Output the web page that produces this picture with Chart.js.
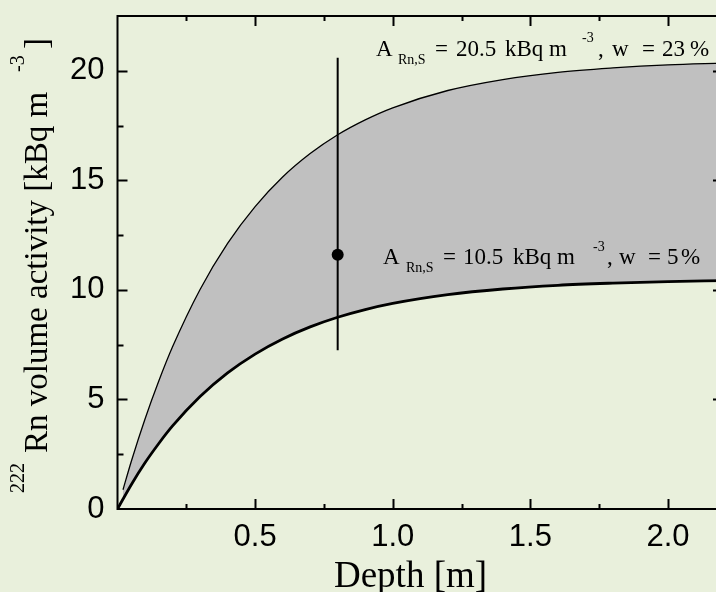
<!DOCTYPE html>
<html>
<head>
<meta charset="utf-8">
<title>Rn volume activity vs depth</title>
<script src="https://cdn.jsdelivr.net/npm/chart.js@4/dist/chart.umd.min.js"></script>
<style>
    html, body { margin: 0; padding: 0; background: #E9F0DC; overflow: hidden; }
    #wrap { position: relative; width: 724px; height: 592px; }
</style>
</head>
<body>
<div id="wrap"><canvas id="rnChart" width="724" height="592"></canvas></div>
<script>
// depth samples [m]
const depthLow = [0, 0.05, 0.1, 0.15, 0.2, 0.3, 0.4, 0.5, 0.6, 0.7, 0.8, 0.9, 1.0, 1.2, 1.4, 1.6, 1.8, 2.0, 2.2];
const activityLow = [0, 1.11, 2.11, 2.99, 3.79, 5.13, 6.21, 7.07, 7.76, 8.31, 8.75, 9.10, 9.38, 9.78, 10.04, 10.21, 10.31, 10.38, 10.42];

const depthHigh = [0.02, 0.05, 0.1, 0.15, 0.2, 0.3, 0.4, 0.5, 0.6, 0.7, 0.8, 0.9, 1.0, 1.2, 1.4, 1.6, 1.8, 2.0, 2.2];
const activityHigh = [0.88, 2.17, 4.11, 5.84, 7.40, 10.02, 12.12, 13.80, 15.15, 16.22, 17.08, 17.76, 18.31, 19.10, 19.60, 19.93, 20.13, 20.27, 20.35];

// measured point with its range
const measDepth = [0.8];
const measActivity = [11.6];
const measMin = [7.25];
const measMax = [20.6];

const xTicks = [0.5, 1.0, 1.5, 2.0];
const yTicks = [0, 5, 10, 15, 20];

const SERIF = '"Liberation Serif", "Times New Roman", serif';
const SANS = '"Liberation Sans", Arial, sans-serif';

function toXY(xs, ys) {
    return xs.map((x, i) => ({ x: x, y: ys[i] }));
}

// frame, inward ticks (major + minor) on all four sides
const framePlugin = {
    id: 'frame',
    afterDatasetsDraw(chart) {
        const { ctx, chartArea: a, scales: { x, y } } = chart;
        ctx.save();
        ctx.strokeStyle = '#000';
        ctx.lineWidth = 2;
        ctx.strokeRect(a.left, a.top, a.right - a.left, a.bottom - a.top);

        ctx.beginPath();
        for (let v = 0.25; v < x.max; v += 0.25) {
            const px = Math.round(x.getPixelForValue(v)) + 0.5;
            const len = Math.abs(v / 0.5 - Math.round(v / 0.5)) < 1e-6 ? 10 : 5;
            ctx.moveTo(px, a.bottom); ctx.lineTo(px, a.bottom - len);
            ctx.moveTo(px, a.top); ctx.lineTo(px, a.top + len);
        }
        for (let v = 2.5; v < y.max; v += 2.5) {
            const py = Math.round(y.getPixelForValue(v)) + 0.5;
            const len = v % 5 === 0 ? 10 : 6;
            ctx.moveTo(a.left, py); ctx.lineTo(a.left + len, py);
            ctx.moveTo(a.right, py); ctx.lineTo(a.right - len, py);
        }
        ctx.stroke();
        ctx.restore();
    }
};

// vertical range bar and dot for the measured value
const measPlugin = {
    id: 'meas',
    afterDatasetsDraw(chart) {
        const { ctx, scales: { x, y } } = chart;
        ctx.save();
        ctx.strokeStyle = '#000';
        ctx.fillStyle = '#000';
        ctx.lineWidth = 2;
        measDepth.forEach((d, i) => {
            const px = x.getPixelForValue(d);
            ctx.beginPath();
            ctx.moveTo(px, y.getPixelForValue(measMin[i]));
            ctx.lineTo(px, y.getPixelForValue(measMax[i]));
            ctx.stroke();
            ctx.beginPath();
            ctx.arc(px, y.getPixelForValue(measActivity[i]), 6, 0, Math.PI * 2);
            ctx.fill();
        });
        ctx.restore();
    }
};

// draw a run of text pieces: [text, size, x, y]
function drawPieces(ctx, pieces) {
    pieces.forEach(p => {
        ctx.font = p[1] + 'px ' + SERIF;
        ctx.fillText(p[0], p[2], p[3]);
    });
}

const labelPlugin = {
    id: 'labels',
    afterDraw(chart) {
        const ctx = chart.ctx;
        ctx.save();
        ctx.fillStyle = '#000';
        ctx.textBaseline = 'alphabetic';
        ctx.textAlign = 'left';

        // curve annotations
        drawPieces(ctx, [
            ['A', 23, 376, 56],
            ['Rn,S', 14, 398, 64],
            ['=', 23, 435, 56],
            ['20.5', 23, 456, 56],
            ['kBq', 23, 505, 56],
            ['m', 23, 549, 56],
            ['-3', 14, 582, 42],
            [',', 23, 598, 56],
            ['w', 23, 612, 56],
            ['=', 23, 642, 56],
            ['23', 23, 662, 56],
            ['%', 23, 690, 56]
        ]);
        drawPieces(ctx, [
            ['A', 23, 383, 264],
            ['Rn,S', 14, 406, 272],
            ['=', 23, 443, 264],
            ['10.5', 23, 463, 264],
            ['kBq', 23, 513, 264],
            ['m', 23, 557, 264],
            ['-3', 14, 593, 251],
            [',', 23, 607, 264],
            ['w', 23, 619, 264],
            ['=', 23, 648, 264],
            ['5', 23, 667, 264],
            ['%', 23, 681, 264]
        ]);

        // x axis title
        ctx.font = '37px ' + SERIF;
        ctx.textAlign = 'center';
        ctx.fillText('Depth [m]', 410.5, 587);

        // y axis title, rotated
        ctx.textAlign = 'left';
        ctx.translate(47, 493);
        ctx.rotate(-Math.PI / 2);
        drawPieces(ctx, [
            ['222', 20, 0, -23],
            ['Rn volume activity [kBq m', 33, 40, 0],
            ['-3', 20, 421, -23],
            [']', 33, 444, 0]
        ]);
        ctx.restore();
    }
};

new Chart(document.getElementById('rnChart'), {
    type: 'line',
    data: {
        datasets: [{
            label: 'A = 10.5 kBq m-3, w = 5 %',
            data: toXY(depthLow, activityLow),
            borderColor: '#000',
            borderWidth: 2.8,
            pointRadius: 0,
            cubicInterpolationMode: 'monotone',
            fill: false
        }, {
            label: 'A = 20.5 kBq m-3, w = 23 %',
            data: toXY(depthHigh, activityHigh),
            borderColor: '#000',
            borderWidth: 1.3,
            pointRadius: 0,
            cubicInterpolationMode: 'monotone',
            backgroundColor: '#C0C0C0',
            fill: '-1'
        }]
    },
    options: {
        responsive: false,
        animation: false,
        layout: { padding: { top: 16, right: 1, left: 0, bottom: 0 } },
        plugins: {
            legend: { display: false },
            tooltip: { enabled: false }
        },
        scales: {
            x: {
                type: 'linear',
                min: 0,
                max: 2.2,
                afterFit(scale) {
                    scale.height = 83;
                    scale.paddingLeft = 0;
                    scale.paddingRight = 0;
                },
                afterBuildTicks(scale) { scale.ticks = xTicks.map(v => ({ value: v })); },
                grid: { display: false },
                border: { display: false },
                ticks: {
                    padding: 2,
                    color: '#000',
                    font: { family: SANS, size: 31 },
                    callback: v => v.toFixed(1)
                }
            },
            y: {
                type: 'linear',
                min: 0,
                max: 22.5,
                afterFit(scale) {
                    scale.width = 117.5;
                    scale.paddingTop = 0;
                    scale.paddingBottom = 0;
                },
                afterBuildTicks(scale) { scale.ticks = yTicks.map(v => ({ value: v })); },
                grid: { display: false },
                border: { display: false },
                ticks: {
                    padding: 5,
                    color: '#000',
                    font: { family: SANS, size: 31 },
                    callback: v => String(v)
                }
            }
        }
    },
    plugins: [framePlugin, measPlugin, labelPlugin]
});
</script>
</body>
</html>
